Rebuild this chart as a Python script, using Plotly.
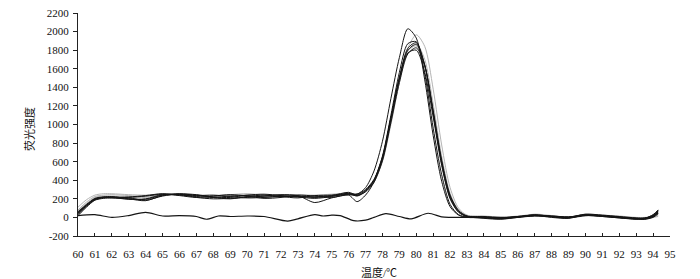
import plotly.graph_objects as go

# Shared temperature grid for the sample curves (°C)
temps = [60, 60.5, 61, 61.5, 62, 63, 64, 65, 66, 67, 68, 69, 70, 71, 72, 73, 74, 75, 76,
         76.5, 77, 77.5, 78, 78.5, 79, 79.5, 80, 80.5, 81, 81.5, 82, 82.5, 83,
         84, 85, 86, 87, 88, 89, 90, 91, 92, 93, 93.5, 94, 94.3]

s1 = [40, 130, 195, 215, 220, 215, 230, 250, 240, 225, 215, 230, 235, 220, 225, 230, 215, 230, 250,
      250, 320, 500, 820, 1280, 1720, 2030, 1930, 1480, 880, 390, 115, 25, 0,
      0, -10, 5, 20, 10, 0, 25, 15, 0, -15, -20, 10, 60]
s2 = [60, 140, 200, 215, 210, 200, 195, 240, 255, 245, 220, 215, 240, 250, 235, 220, 205, 225, 260,
      230, 280, 400, 660, 1100, 1560, 1870, 1890, 1540, 960, 460, 140, 30, 5,
      5, -5, 10, 25, 5, -5, 30, 20, 5, -10, -15, 20, 75]
s3 = [30, 120, 190, 210, 215, 210, 185, 230, 250, 215, 200, 205, 215, 230, 245, 235, 160, 210, 240,
      170, 240, 380, 630, 1060, 1500, 1820, 1880, 1640, 1120, 580, 210, 60, 10,
      -10, -20, 0, 15, 15, 5, 20, 10, -5, -20, -10, 30, 80]
s4 = [50, 135, 205, 220, 215, 195, 200, 245, 245, 235, 240, 225, 210, 215, 230, 225, 220, 235, 270,
      240, 290, 400, 640, 1070, 1500, 1800, 1860, 1640, 1140, 600, 230, 70, 15,
      10, 0, 5, 30, 10, 0, 35, 25, 10, -5, -5, 15, 55]
s5 = [20, 110, 185, 205, 210, 220, 235, 255, 235, 215, 230, 245, 230, 205, 215, 240, 230, 215, 245,
      235, 275, 380, 610, 1020, 1450, 1760, 1825, 1630, 1150, 620, 240, 75, 15,
      -5, -15, 0, 20, 0, -10, 25, 10, -5, -15, -20, 0, 40]
s6 = [45, 125, 195, 220, 225, 200, 180, 235, 250, 240, 215, 200, 225, 240, 225, 210, 235, 240, 255,
      250, 300, 410, 650, 1070, 1490, 1770, 1800, 1560, 1080, 560, 200, 55, 10,
      0, -5, 10, 25, 15, 5, 30, 15, 0, -10, -10, 25, 70]
g1 = [110, 190, 240, 255, 255, 245, 240, 255, 250, 240, 235, 245, 255, 240, 230, 235, 240, 250, 260,
      255, 285, 380, 600, 1000, 1450, 1820, 1965, 1840, 1380, 780, 320, 100, 25,
      15, 5, 10, 35, 20, 5, 35, 25, 15, 0, 0, 10, 30]
g2 = [80, 165, 225, 240, 245, 235, 225, 250, 255, 230, 225, 240, 245, 235, 240, 230, 225, 245, 255,
      250, 285, 390, 620, 1030, 1470, 1790, 1870, 1700, 1220, 660, 260, 80, 20,
      5, 0, 15, 30, 15, 0, 30, 20, 5, -10, -5, 5, 20]
g3 = [70, 150, 215, 230, 230, 225, 215, 245, 240, 235, 230, 235, 225, 230, 235, 245, 235, 230, 250,
      245, 280, 395, 630, 1050, 1490, 1790, 1845, 1620, 1120, 590, 220, 65, 10,
      0, -10, 5, 25, 10, -5, 25, 20, 0, -15, -10, 0, 10]

# Negative control
nc_x = [60, 61, 62, 63, 64, 65, 66, 67, 67.6, 68.3, 69, 70, 71, 72.4, 73, 74, 74.5, 75, 75.5,
        76.3, 77, 77.5, 78.2, 79, 79.7, 80.7, 81.5, 82, 83, 84, 85, 86, 87, 88, 89, 90, 91,
        92, 93, 93.5, 94, 94.3]
nc_y = [20, 30, 0, 20, 55, 15, 20, 10, -20, 15, 10, 15, 10, -40, -15, 30, 15, 25, 20,
        -35, -30, 0, 40, 10, -15, 45, 5, 0, 0, 0, -10, 5, 20, 10, -5, 20, 15,
        0, -15, -10, 10, 50]

black_series = [s1, s2, s3, s4, s5, s6]
gray_series = [g1, g2, g3]

x_ticks = list(range(60, 96))
y_ticks = list(range(-200, 2201, 200))

FONT = "'Liberation Serif', 'Noto Sans CJK SC', serif"
TXT = "#111111"

fig = go.Figure()
for ys in gray_series:
    fig.add_trace(go.Scatter(x=temps, y=ys, mode="lines",
                             line=dict(color="#b4b4b4", width=1, shape="spline", smoothing=0.8),
                             showlegend=False, hoverinfo="skip"))
for ys in black_series:
    fig.add_trace(go.Scatter(x=temps, y=ys, mode="lines",
                             line=dict(color="#151515", width=1, shape="spline", smoothing=0.8),
                             showlegend=False, hoverinfo="skip"))
fig.add_trace(go.Scatter(x=nc_x, y=nc_y, mode="lines",
                         line=dict(color="#151515", width=1.2, shape="spline", smoothing=0.8),
                         showlegend=False, hoverinfo="skip"))

fig.update_layout(
    width=700, height=279,
    margin=dict(l=78, r=30, t=7, b=43),
    paper_bgcolor="white", plot_bgcolor="white",
    font=dict(family=FONT, size=11, color=TXT),
    xaxis=dict(range=[60, 95], tickvals=x_ticks, ticktext=[str(v) for v in x_ticks],
               ticks="inside", ticklen=3, tickcolor="#222", showline=True, linecolor="#222",
               linewidth=1, showgrid=False, zeroline=False, tickangle=0,
               ticklabelstandoff=8,
               tickfont=dict(family=FONT, size=11, color=TXT), title=None),
    yaxis=dict(range=[-200, 2200], tickvals=y_ticks, ticktext=[str(v) for v in y_ticks],
               ticks="outside", ticklen=4, tickcolor="#222", showline=True, linecolor="#222",
               linewidth=1, showgrid=False, zeroline=False, ticklabelstandoff=2,
               tickfont=dict(family=FONT, size=11, color=TXT), title=None),
    annotations=[
        dict(text="温度/℃", xref="paper", yref="paper", x=(379 - 78) / 592, y=-(273 - 236) / 229,
             showarrow=False, xanchor="center", yanchor="middle",
             font=dict(family=FONT, size=11, color=TXT)),
        dict(text="荧光强度", xref="paper", yref="paper", x=-(78 - 30) / 592, y=(236 - 126) / 229,
             showarrow=False, xanchor="center", yanchor="middle", textangle=-90,
             font=dict(family=FONT, size=11, color=TXT)),
    ],
)

fig.write_html("out.html")
